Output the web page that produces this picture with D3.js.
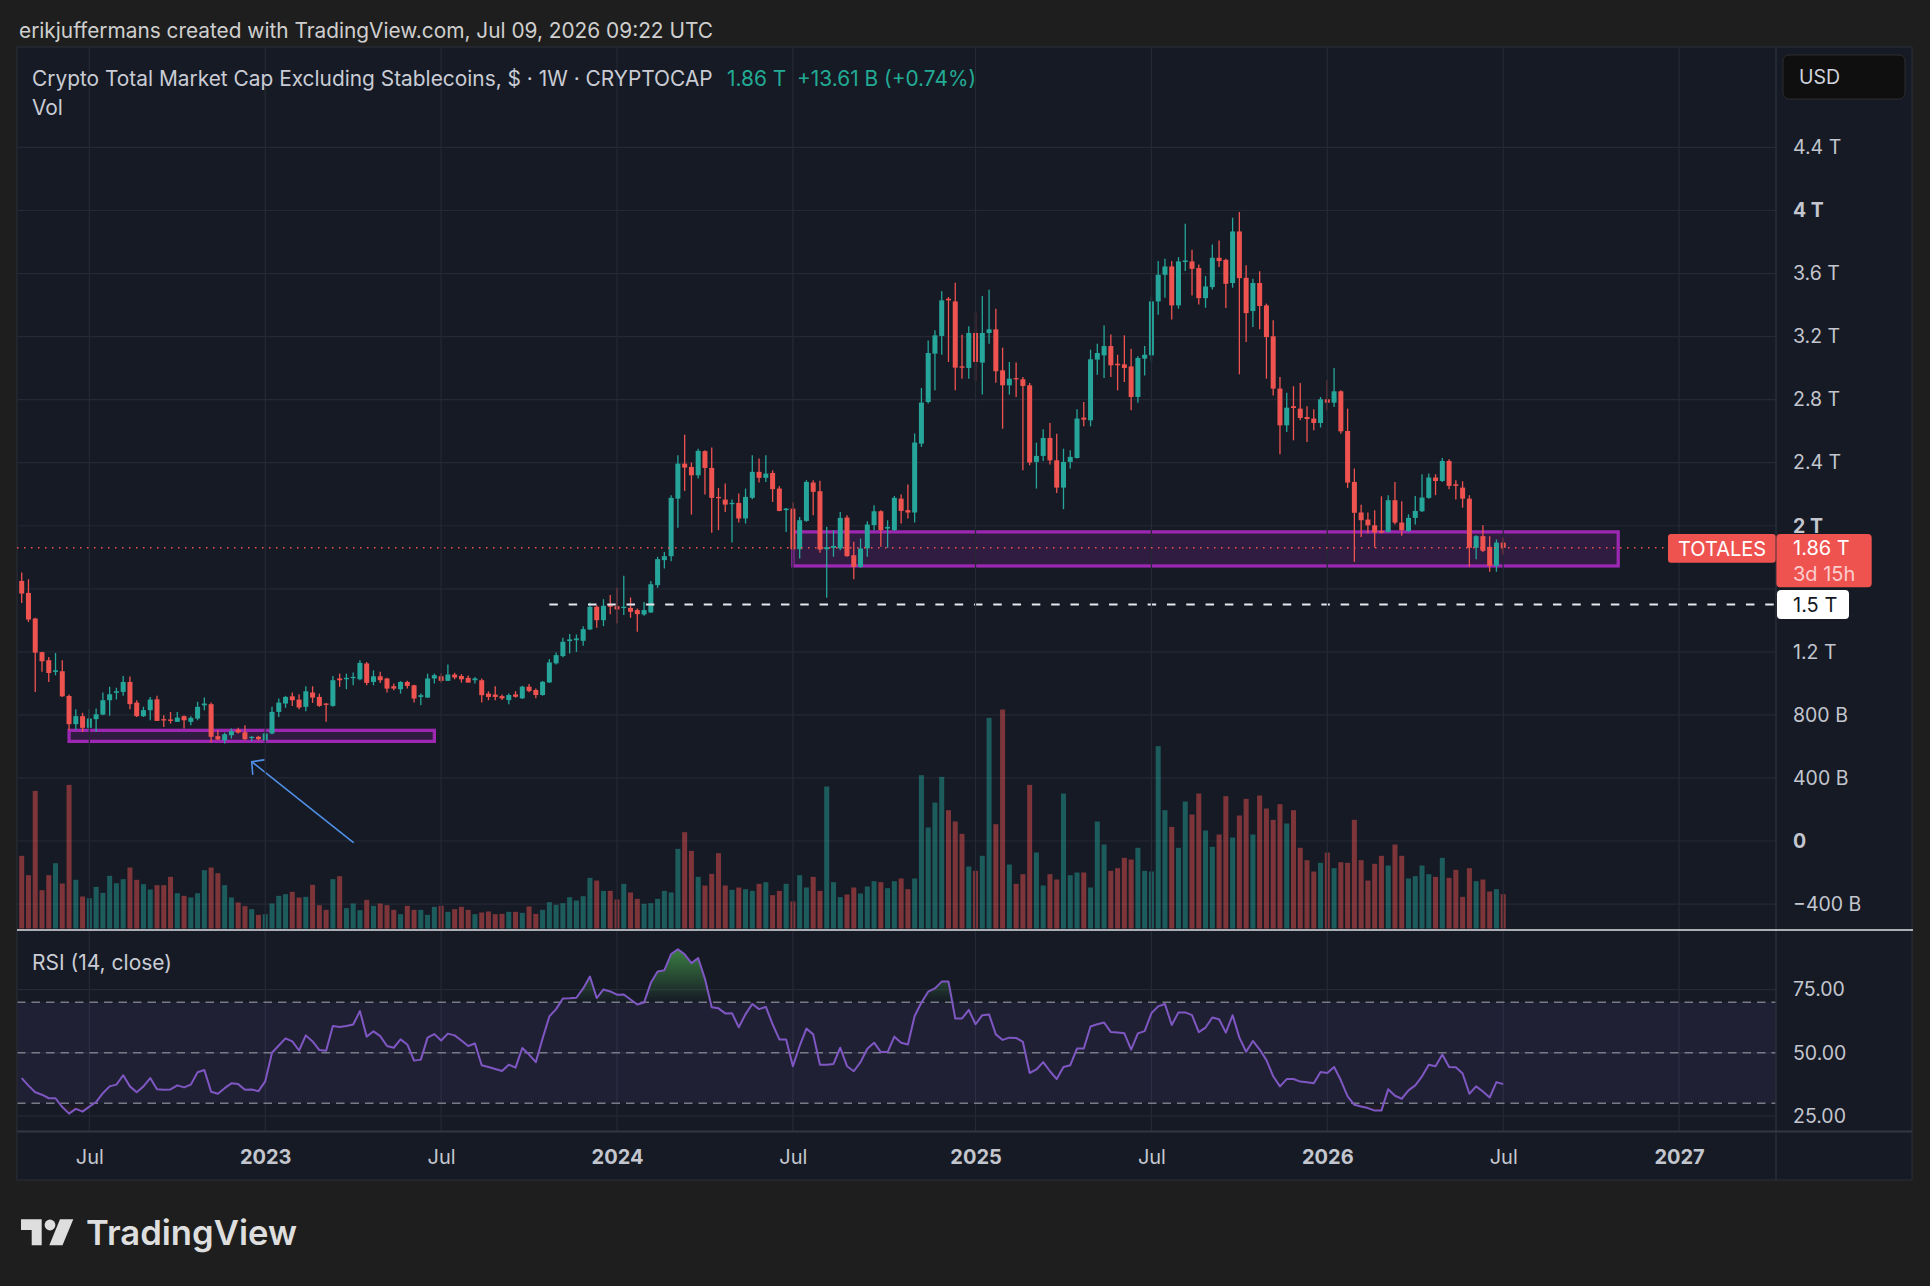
<!DOCTYPE html>
<html><head><meta charset="utf-8">
<script src="https://cdn.jsdelivr.net/npm/d3@7"></script>
<style>
html,body{margin:0;padding:0;background:#1e1e1e;}
svg{display:block;}
text{font-family:Inter,"Noto Sans",sans-serif;}
</style></head><body>
<svg id="c" width="1930" height="1286"></svg>
<script>
// ---------------- DATA ----------------
const startWeek = "2022-04-25"; // first weekly bar (Mondays)
const opens = [1650,1574,1411,1198,1147,1073,1077,920,741,792,
718,773,802,893,940,946,1009,878,792,830,
899,773,771,756,792,756,777,861,868,665,
639,671,707,690,654,661,639,682,819,872,
918,897,851,942,914,872,857,1031,1026,1035,
1026,1126,1009,1045,1031,982,963,1009,988,914,
910,1031,1045,1016,1056,1047,1035,1020,1020,935,
929,919,894,930,905,979,958,926,1006,1127,
1173,1268,1274,1270,1342,1486,1401,1496,1490,1479,
1479,1465,1437,1450,1623,1782,1807,2172,2394,2373,
2320,2473,2367,2183,2166,2137,2145,2046,2177,2342,
2304,2335,2236,2099,2109,1851,2031,2274,2219,1851,
1860,1856,2052,1813,1739,1856,2004,2092,1982,1972,
2172,2099,2084,2521,2785,3092,3204,3440,3423,3011,
3001,3223,3035,3223,3246,2986,2891,2937,2929,2891,
2405,2443,2557,2415,2242,2405,2430,2686,2669,3054,
3081,3140,3028,3024,3011,2817,3060,3081,3423,3592,
3645,3398,3673,3677,3635,3444,3514,3700,3687,3540,
3867,3573,3362,3540,3398,3202,2870,2637,2758,2743,
2690,2680,2652,2802,2781,2853,2601,2278,2084,2039,
2003,1967,1961,2162,2020,1967,2050,2092,2177,2306,
2284,2411,2263,2242,2172,1860,1934,1866,1746,1893];
const highs = [1703,1661,1417,1200,1168,1193,1147,929,836,813,
836,840,942,978,973,1047,1043,893,851,914,
921,798,819,819,796,792,883,910,878,703,
686,713,718,735,665,667,688,851,904,921,
942,931,982,982,935,876,1047,1062,1062,1069,
1147,1136,1083,1073,1035,999,1014,1016,992,935,
1062,1062,1062,1119,1067,1058,1050,1041,1031,950,
982,930,936,951,985,996,968,1015,1154,1196,
1289,1313,1310,1363,1511,1496,1534,1560,1606,1682,
1545,1475,1517,1649,1803,1834,2194,2447,2578,2401,
2489,2479,2496,2240,2268,2166,2204,2236,2447,2426,
2447,2352,2251,2113,2147,2056,2289,2289,2285,1993,
1972,2088,2067,1898,1919,2029,2130,2099,2035,2189,
2198,2261,2585,2874,3176,3240,3487,3451,3542,3212,
3265,3352,3457,3497,3377,3130,3039,3035,2944,2906,
2527,2612,2652,2584,2489,2479,2739,2785,3117,3155,
3271,3214,3085,3208,3123,3075,3140,3455,3679,3694,
3679,3704,3916,3751,3658,3584,3785,3810,3694,3954,
3990,3652,3567,3614,3409,3303,2944,2844,2885,2906,
2758,2739,2817,2923,3001,2859,2743,2363,2134,2084,
2099,2187,2194,2278,2156,2073,2189,2327,2331,2327,
2430,2422,2289,2282,2194,1940,2003,1934,1913,1925];
const lows = [1510,1390,946,1073,1009,1052,914,703,707,692,
703,692,798,794,897,921,836,787,787,766,
762,724,745,756,713,735,766,830,625,639,
618,650,682,639,633,637,639,677,787,845,
857,836,823,876,851,756,851,978,963,988,
1020,988,988,1003,942,957,935,967,878,861,
908,999,1005,1016,1026,1005,1005,999,878,893,
893,894,867,909,901,943,905,922,1002,1120,
1165,1190,1200,1239,1338,1353,1363,1439,1380,1433,
1416,1327,1429,1446,1606,1729,1775,1987,2221,2071,
2299,2198,1955,1972,2088,1894,2020,2014,2168,2274,
2278,2151,2092,1961,1845,1792,2025,2067,1828,1543,
1803,1845,1803,1661,1733,1803,1972,1866,1860,1968,
2014,2046,2020,2500,2775,2859,3085,3039,2859,2933,
2933,2918,2832,3155,2908,2616,2832,2817,2352,2384,
2236,2411,2388,2208,2105,2363,2426,2631,2631,2958,
2937,2944,2859,2912,2732,2781,2954,3039,3339,3447,
3309,3377,3616,3461,3404,3383,3499,3641,3381,3510,
2961,3166,3261,3246,2933,2827,2453,2595,2542,2669,
2532,2606,2623,2732,2754,2584,2240,1771,1929,1951,
1862,1951,1957,2008,1936,1961,2008,2088,2172,2194,
2278,2232,2166,2115,1739,1788,1834,1708,1708,1818];
const closes = [1570,1405,1195,1140,1066,1083,918,741,792,718,
777,804,893,931,950,1009,868,792,830,897,
762,766,762,783,766,781,851,872,661,644,
677,697,688,646,661,646,682,819,878,914,
893,847,950,910,857,866,1020,1020,1035,1041,
1130,1003,1045,1020,967,967,1009,984,904,925,
1031,1052,1016,1056,1037,1026,1005,1031,925,914,
914,905,926,915,979,951,926,1010,1133,1179,
1264,1279,1285,1344,1486,1401,1492,1486,1469,1486,
1454,1439,1465,1629,1788,1807,2177,2394,2369,2320,
2475,2367,2177,2177,2134,2145,2046,2183,2342,2304,
2331,2232,2094,2109,1851,2035,2278,2215,1849,1864,
1872,2050,1807,1739,1856,2008,2092,1972,1993,2177,
2094,2084,2528,2781,3096,3208,3430,3430,3003,3003,
3223,3039,3223,3246,2980,2891,2933,2929,2887,2401,
2443,2557,2415,2242,2405,2437,2680,2673,3056,3096,
3140,3018,3018,3001,2817,3064,3085,3423,3592,3645,
3398,3677,3683,3630,3444,3518,3700,3679,3535,3867,
3571,3349,3540,3394,3197,2870,2637,2749,2747,2684,
2677,2652,2802,2781,2853,2599,2274,2082,2035,2003,
1957,1957,2162,2020,1972,2050,2094,2179,2306,2284,
2411,2253,2253,2172,1860,1934,1841,1746,1893,1860];
const volumes = [218,160,413,115,160,196,135,431,146,96,
91,125,107,158,136,148,183,146,133,117,
130,130,155,106,98,93,106,175,183,166,
130,93,78,67,58,41,43,75,98,103,
110,93,95,131,70,56,148,157,61,75,
55,86,68,75,70,56,43,68,56,56,
41,65,68,50,58,65,56,43,48,51,
43,44,50,50,47,66,44,56,79,71,
76,94,84,97,152,144,113,113,87,134,
108,89,74,76,89,113,108,239,289,233,
155,129,164,226,129,116,123,118,113,134,
139,100,113,134,81,160,123,155,113,426,
139,94,102,123,105,126,142,139,121,142,
150,118,150,460,303,378,455,355,321,284,
186,173,218,632,313,657,192,134,163,431,
228,129,163,147,405,160,168,168,123,321,
252,173,181,212,207,242,173,171,547,355,
305,242,381,342,405,294,245,282,397,273,
339,389,282,399,360,326,373,315,355,242,
205,171,197,228,181,199,197,326,205,144,
194,218,189,252,218,150,157,189,163,155,
212,152,176,95,181,142,147,111,118,103];
const rsi = [40,37,34.4,33.4,32,32,28.5,25.9,27.8,26.7,
28.7,30.5,34,36.7,37.4,41.1,36.7,34.4,36.7,40,
35.6,35.4,35.5,37.1,36.3,37.4,42.3,43.2,34.6,33.8,
36,37.9,37.6,35.4,35.5,34.8,38.7,50,52.9,55.7,
54.5,50.9,56.9,54.5,51.1,50.8,60.6,60.2,60.6,61.2,
66.5,56.4,58.5,56.6,52.7,52,55.3,53.3,46.9,47.3,
56,57.4,54.9,57.6,56.9,54.9,52.7,53.7,45.1,44.4,
43.6,42.8,45.3,44.1,51.9,49.3,46.3,55.7,64.4,67.3,
71.5,71.6,71.8,75.5,80.2,71.7,75.1,74.3,73,73.1,
71.1,69.1,69.9,77.7,82.2,82.7,89.1,91,89,85.5,
87.5,79.3,68,67.6,65.6,65.7,60.1,65.3,69.3,67.3,
68.2,61.3,55.3,55.3,44.7,52.7,59.6,57.3,45.3,45.3,
45.6,52,44.7,42.7,46.3,51.6,54,50.3,50.3,56.4,
54,53.3,64.6,69.9,74.2,75.5,78.2,78.2,63.6,63.6,
67,61.3,64.9,65.2,57.3,55.1,56,55.9,54.3,42,
43.4,46.3,42.7,39.6,44.4,45.1,51.7,51.7,60.4,61.3,
62,58.2,58,57.7,51.3,57.7,58.6,65.7,68.4,69.3,
61,66,66,64.9,58.2,60,64,63.3,58,64.9,
56,50.4,54.7,51.3,47.1,40.7,36.7,39.6,39.6,38.6,
38.3,37.9,42.4,42,44.4,39.1,32.7,29.4,28.7,28.1,
27.1,27.1,35.6,33,31.8,35.1,37.1,40.7,45.3,44.7,
49.3,44.4,44.3,41.8,33.8,36.7,34.7,32.3,38.4,37.6];

const timeTickDates = ["2022-07-04","2023-01-02","2023-07-03","2024-01-01","2024-07-01","2025-01-06","2025-07-07","2026-01-05","2026-07-06","2027-01-04"];
const timeTickLabels = ["Jul","2023","Jul","2024","Jul","2025","Jul","2026","Jul","2027"];
const priceGrid = [4400,4000,3600,3200,2800,2400,2000,1600,1200,800,400,0,-400]; // in B
const priceTickLabels = [4400,4000,3600,3200,2800,2400,2000,1200,800,400,0,-400]; // 1.6 T hidden behind price labels
const boldPriceTicks = [4000,2000,0];
const rsiTicks = [75,50,25];
const rsiLevels = [70,50,30];
const zones = [
  {from:"2022-06-13", to:"2023-06-26", top:702, bottom:632},
  {from:"2024-07-01", to:"2026-11-02", top:1961, bottom:1745}
];
const supportLine = {from:"2023-10-23", price:1500, label:"1.5 T"};
const arrowNote = {from:{date:"2023-04-03", price:-8}, to:{date:"2022-12-19", price:503}};
const lastPrice = 1860;
const symbolLabel = "TOTALES";
const countdown = "3d 15h";
const headerText = "erikjuffermans created with TradingView.com, Jul 09, 2026 09:22 UTC";
const titleText = "Crypto Total Market Cap Excluding Stablecoins, $ \u00b7 1W \u00b7 CRYPTOCAP";
const titleValue = "1.86 T";
const titleChange = "+13.61 B (+0.74%)";

// ---------------- LAYOUT ----------------
const W=1930, H=1286;
const frame = {x0:17, x1:1912, y0:47, y1:1180};
const axisX = 1776;
const mainTop = 47, mainBottom = 929.5;
const rsiTop = 931, rsiBottom = 1131.5;
const BG = "#161a25", GRID = "#252935", TXT = "#c3c6ce";
const UP = "#26a69a", DN = "#ef5350";
const AXFS = 19.5;

const parse = d3.utcParse("%Y-%m-%d");
const t0 = parse(startWeek);
const N = closes.length;
const dates = d3.range(N).map(i => d3.utcMonday.offset(t0, i));
const bars = dates.map((d,i)=>({d, o:opens[i], h:highs[i], l:lows[i], c:closes[i], v:volumes[i], r:rsi[i]}));

const x = d3.scaleUtc().domain([dates[0], dates[N-1]]).range([21.7, 1503.2]);
const y = d3.scaleLinear().domain([0,4000]).range([841,210.5]);
const yv = d3.scaleLinear().domain([0,700]).range([928.5,695.2]);
const yr = d3.scaleLinear().domain([30,70]).range([1103.3,1002.3]);

const svg = d3.select("#c");
const defs = svg.append("defs");
defs.append("clipPath").attr("id","clipMain").append("rect")
  .attr("x",frame.x0+0.5).attr("y",mainTop).attr("width",axisX-frame.x0-0.5).attr("height",mainBottom-mainTop);
defs.append("clipPath").attr("id","clipRsi").append("rect")
  .attr("x",frame.x0+0.5).attr("y",rsiTop).attr("width",axisX-frame.x0-0.5).attr("height",rsiBottom-rsiTop);

svg.append("rect").attr("width",W).attr("height",H).attr("fill","#1e1e1e");
svg.append("rect").attr("x",frame.x0).attr("y",frame.y0).attr("width",frame.x1-frame.x0).attr("height",frame.y1-frame.y0)
  .attr("fill",BG).attr("stroke","#2a2e39").attr("stroke-width",1);

// header
function fit(sel, w){ const n = sel.node(); const cur = n.getComputedTextLength(); const fs = parseFloat(sel.attr("font-size")); sel.attr("font-size", (fs*w/cur).toFixed(2)); }
const hdr = svg.append("text").attr("x",19).attr("y",37.5).attr("font-size",19).attr("fill","#cfcfcf").text(headerText);
fit(hdr, 694);

// ---------------- GRID ----------------
const gMain = svg.append("g").attr("clip-path","url(#clipMain)");
gMain.selectAll(".hg").data(priceGrid).join("line")
  .attr("x1",frame.x0).attr("x2",axisX).attr("y1",d=>y(d)).attr("y2",d=>y(d))
  .attr("stroke",GRID).attr("stroke-width",1.2);
const tickDates = timeTickDates.map(parse);
svg.append("g").selectAll("line").data(tickDates).join("line")
  .attr("x1",d=>x(d)).attr("x2",d=>x(d)).attr("y1",mainTop).attr("y2",rsiBottom)
  .attr("stroke",GRID).attr("stroke-width",1.2);

// ---------------- VOLUME ----------------
gMain.selectAll(".vol").data(bars).join("rect")
  .attr("x",d=>x(d.d)-2.5).attr("width",5)
  .attr("y",d=>yv(d.v)).attr("height",d=>yv(0)-yv(d.v))
  .attr("fill",d=>d.c>=d.o?UP:DN).attr("fill-opacity",0.48);

// ---------------- ZONES ----------------
gMain.selectAll(".zone").data(zones).join("rect")
  .attr("x",d=>x(parse(d.from))).attr("width",d=>x(parse(d.to))-x(parse(d.from)))
  .attr("y",d=>y(d.top)).attr("height",d=>y(d.bottom)-y(d.top))
  .attr("fill","rgba(156,39,176,0.2)").attr("stroke","#9c27b0").attr("stroke-width",3.3);

// ---------------- CANDLES ----------------
const gc = gMain.append("g");
gc.selectAll(".wick").data(bars).join("line")
  .attr("x1",d=>x(d.d)).attr("x2",d=>x(d.d)).attr("y1",d=>y(d.h)).attr("y2",d=>y(d.l))
  .attr("stroke",d=>d.c>=d.o?UP:DN).attr("stroke-width",1.3);
gc.selectAll(".body").data(bars).join("rect")
  .attr("x",d=>x(d.d)-2.5).attr("width",5)
  .attr("y",d=>y(Math.max(d.o,d.c))).attr("height",d=>Math.max(1.3, Math.abs(y(d.o)-y(d.c))))
  .attr("fill",d=>d.c>=d.o?UP:DN);

// support dashed line
gMain.append("line").attr("x1",x(parse(supportLine.from))).attr("x2",axisX)
  .attr("y1",y(supportLine.price)).attr("y2",y(supportLine.price))
  .attr("stroke","#e6e8ee").attr("stroke-width",2).attr("stroke-dasharray","8.5 10.8");

// last price dotted line
svg.append("line").attr("x1",frame.x0).attr("x2",1668).attr("y1",y(lastPrice)).attr("y2",y(lastPrice))
  .attr("stroke",DN).attr("stroke-width",1.5).attr("stroke-dasharray","1.5 5.5");

// arrow annotation
{
  const xs = x(parse(arrowNote.from.date)), ys = y(arrowNote.from.price);
  const xt = x(parse(arrowNote.to.date)), yt = y(arrowNote.to.price);
  const ang = Math.atan2(ys-yt, xs-xt), L = 12.5, spread = 47*Math.PI/180;
  const ga = gMain.append("g").attr("stroke","#4f8fe6").attr("stroke-width",1.6).attr("fill","none").attr("stroke-linecap","round");
  ga.append("line").attr("x1",xs).attr("y1",ys).attr("x2",xt).attr("y2",yt);
  [ang-spread, ang+spread].forEach(a=>{
    ga.append("line").attr("x1",xt).attr("y1",yt).attr("x2",xt+L*Math.cos(a)).attr("y2",yt+L*Math.sin(a));
  });
}

// title texts
const tt = svg.append("text").attr("x",32).attr("y",86).attr("font-size",19).attr("fill","#c9ccd4").text(titleText);
fit(tt, 681);
const tfs = tt.attr("font-size");
svg.append("text").attr("x",727).attr("y",86).attr("font-size",tfs).attr("fill","#22ab94").text(titleValue);
svg.append("text").attr("x",797).attr("y",86).attr("font-size",tfs).attr("fill","#22ab94").text(titleChange);
svg.append("text").attr("x",32).attr("y",115).attr("font-size",tfs).attr("fill","#c9ccd4").text("Vol");

// ---------------- RSI ----------------
const gR = svg.append("g").attr("clip-path","url(#clipRsi)");
gR.selectAll(".rg").data(rsiTicks).join("line")
  .attr("x1",frame.x0).attr("x2",axisX).attr("y1",d=>yr(d)).attr("y2",d=>yr(d))
  .attr("stroke",GRID).attr("stroke-width",1.2);
gR.append("rect").attr("x",frame.x0).attr("width",axisX-frame.x0)
  .attr("y",yr(70)).attr("height",yr(30)-yr(70)).attr("fill","rgba(126,87,194,0.1)");
const gradUp = defs.append("linearGradient").attr("id","gUp").attr("gradientUnits","userSpaceOnUse")
  .attr("x1",0).attr("x2",0).attr("y1",yr(100)).attr("y2",yr(70));
gradUp.append("stop").attr("offset",0).attr("stop-color","#4caf50").attr("stop-opacity",0.95);
gradUp.append("stop").attr("offset",1).attr("stop-color","#4caf50").attr("stop-opacity",0);
const gradDn = defs.append("linearGradient").attr("id","gDn").attr("gradientUnits","userSpaceOnUse")
  .attr("x1",0).attr("x2",0).attr("y1",yr(30)).attr("y2",yr(0));
gradDn.append("stop").attr("offset",0).attr("stop-color","#f23645").attr("stop-opacity",0);
gradDn.append("stop").attr("offset",1).attr("stop-color","#f23645").attr("stop-opacity",0.95);
gR.append("path").datum(bars)
  .attr("d",d3.area().x(d=>x(d.d)).y0(yr(70)).y1(d=>yr(Math.max(d.r,70))))
  .attr("fill","url(#gUp)");
gR.append("path").datum(bars)
  .attr("d",d3.area().x(d=>x(d.d)).y0(yr(30)).y1(d=>yr(Math.min(d.r,30))))
  .attr("fill","url(#gDn)");
gR.selectAll(".rl").data(rsiLevels).join("line")
  .attr("x1",frame.x0).attr("x2",axisX).attr("y1",d=>yr(d)).attr("y2",d=>yr(d))
  .attr("stroke","#787b86").attr("stroke-width",1.5).attr("stroke-dasharray","8.5 6");
gR.append("path").datum(bars)
  .attr("d",d3.line().x(d=>x(d.d)).y(d=>yr(d.r)))
  .attr("fill","none").attr("stroke","#7e57c2").attr("stroke-width",2).attr("stroke-linejoin","round");
const rl = svg.append("text").attr("x",32).attr("y",970).attr("font-size",19).attr("fill","#c9ccd4").text("RSI (14, close)");
fit(rl, 140);

// ---------------- SEPARATORS ----------------
svg.append("line").attr("x1",axisX).attr("x2",axisX).attr("y1",frame.y0).attr("y2",frame.y1).attr("stroke","#2a2e39").attr("stroke-width",1.5);
svg.append("line").attr("x1",frame.x0).attr("x2",frame.x1).attr("y1",rsiBottom).attr("y2",rsiBottom).attr("stroke","#333744").attr("stroke-width",2);
svg.append("line").attr("x1",frame.x0).attr("x2",frame.x1+1).attr("y1",930).attr("y2",930).attr("stroke","#dfe1e6").attr("stroke-width",1.6);

// ---------------- AXES ----------------
const fmtP = v => { if (v===0) return "0"; const a=Math.abs(v); const s = a>=1000 ? d3.format("~g")(a/1000)+" T" : a+" B"; return (v<0?"\u2212":"")+s; };
const pAxis = svg.append("g").attr("transform",`translate(${axisX},0)`)
  .call(d3.axisRight(y).tickValues(priceTickLabels).tickFormat(fmtP).tickSize(0).tickPadding(17));
pAxis.select(".domain").remove();
pAxis.selectAll("text").attr("font-size",AXFS).attr("fill",TXT).attr("font-family","Inter, sans-serif")
  .attr("font-weight",d=>boldPriceTicks.includes(d)?700:400);

const rAxis = svg.append("g").attr("transform",`translate(${axisX},0)`)
  .call(d3.axisRight(yr).tickValues(rsiTicks).tickFormat(d3.format(".2f")).tickSize(0).tickPadding(17));
rAxis.select(".domain").remove();
rAxis.selectAll("text").attr("font-size",AXFS).attr("fill",TXT).attr("font-family","Inter, sans-serif");

const tAxis = svg.append("g").attr("transform",`translate(0,${rsiBottom})`)
  .call(d3.axisBottom(x).tickValues(tickDates).tickFormat((d,i)=>timeTickLabels[i]).tickSize(0).tickPadding(18.5));
tAxis.select(".domain").remove();
tAxis.selectAll("text").attr("font-size",20).attr("fill",TXT).attr("font-family","Inter, sans-serif")
  .attr("font-weight",(d,i)=>/^\d/.test(timeTickLabels[i])?700:400);

// USD box
svg.append("rect").attr("x",1783).attr("y",55).attr("width",122).attr("height",44).attr("rx",6)
  .attr("fill","#0f0f10").attr("stroke","#2c2c2e");
svg.append("text").attr("x",1799).attr("y",77).attr("dy","0.35em").attr("font-size",AXFS).attr("fill","#d1d4dc").text("USD");

// symbol + price labels
svg.append("rect").attr("x",1668).attr("y",534).attr("width",107.6).attr("height",28.7).attr("rx",3).attr("fill",DN);
svg.append("text").attr("x",1722).attr("y",548.5).attr("dy","0.35em").attr("text-anchor","middle").attr("font-size",20).attr("fill","#fff").text(symbolLabel);
svg.append("rect").attr("x",1776.4).attr("y",534).attr("width",95.3).attr("height",53.3).attr("rx",4).attr("fill",DN);
svg.append("text").attr("x",1793).attr("y",y(lastPrice)).attr("dy","0.35em").attr("font-size",20).attr("fill","#fff").text(fmtP(lastPrice));
svg.append("text").attr("x",1793).attr("y",574).attr("dy","0.35em").attr("font-size",20).attr("fill","rgba(255,255,255,0.72)").text(countdown);
svg.append("rect").attr("x",1777).attr("y",y(supportLine.price)-14.5).attr("width",72).attr("height",29).attr("rx",4).attr("fill","#ffffff");
svg.append("text").attr("x",1793).attr("y",y(supportLine.price)).attr("dy","0.35em").attr("font-size",20).attr("fill","#131722").text(supportLine.label);

// ---------------- LOGO ----------------
const lg = svg.append("g").attr("fill","#dedede");
lg.append("path").attr("d","M21,1219.3 H41.7 V1245.3 H31.7 V1230 H21 Z");
lg.append("circle").attr("cx",50).attr("cy",1225).attr("r",5.4);
lg.append("path").attr("d","M60,1219.3 H73.3 L62.5,1245.3 H49.3 Z");
const lt = svg.append("text").attr("x",86).attr("y",1245.3).attr("font-size",34).attr("font-weight",600).attr("fill","#dedede").text("TradingView");
fit(lt, 211);
</script>
</body></html>
